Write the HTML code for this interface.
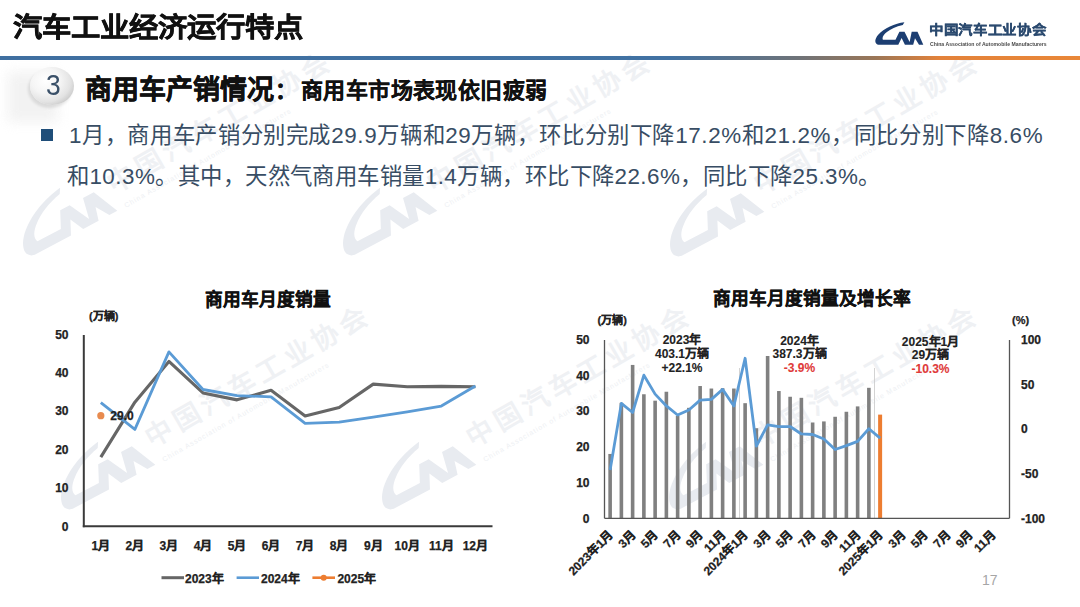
<!DOCTYPE html>
<html lang="zh-CN"><head><meta charset="utf-8">
<style>
html,body{margin:0;padding:0;background:#fff;}
#pg{position:relative;width:1080px;height:607px;overflow:hidden;background:#fff;font-family:"Liberation Sans", sans-serif;}
.t{position:absolute;white-space:nowrap;line-height:1;}
svg text{font-family:"Liberation Sans", sans-serif;}
.ax{font-size:12px;font-weight:bold;fill:#222;stroke:#222;stroke-width:0.25px;}
.ttl{font-size:17.7px;font-weight:bold;fill:#111;stroke:#111;stroke-width:0.35px;}
</style></head><body><div id="pg">
<svg style="position:absolute;left:0;top:0" width="1080" height="607" viewBox="0 0 1080 607">
<path transform="translate(5.300000000000001,216.1) rotate(-28) scale(2.1)" d="M29.4 0.3 C20 1.5, 9 6, 3 13 C0.5 16, -0.5 19.5, 1 21.3 C1.8 22.4, 2.8 22.8, 4.5 22.8 L23.3 22.8 L26.6 16 L29.9 22.8 L38.2 22.8 L40 16.3 L44 22.8 L48.3 22.8 L42.5 9.8 L36.7 9.8 L34.6 19.9 L29.5 9.8 L24.4 9.8 L20.5 17.8 L7.9 17.8 C6.8 15.5, 8.5 12.5, 11.9 9.9 C15.5 7, 21 4.3, 27.8 2.9 Z" fill="#E8EBF0"/>
<text transform="translate(114,194) rotate(-30)" style="font-size:27px;font-weight:bold;fill:#EFF1F4;letter-spacing:5px">中国汽车工业协会</text>
<text transform="translate(126,208) rotate(-30)" style="font-size:7px;fill:#EEF0F3;letter-spacing:1px">China Association of Automobile Manufacturers</text>
<path transform="translate(325.3,216.1) rotate(-28) scale(2.1)" d="M29.4 0.3 C20 1.5, 9 6, 3 13 C0.5 16, -0.5 19.5, 1 21.3 C1.8 22.4, 2.8 22.8, 4.5 22.8 L23.3 22.8 L26.6 16 L29.9 22.8 L38.2 22.8 L40 16.3 L44 22.8 L48.3 22.8 L42.5 9.8 L36.7 9.8 L34.6 19.9 L29.5 9.8 L24.4 9.8 L20.5 17.8 L7.9 17.8 C6.8 15.5, 8.5 12.5, 11.9 9.9 C15.5 7, 21 4.3, 27.8 2.9 Z" fill="#E8EBF0"/>
<text transform="translate(434,194) rotate(-30)" style="font-size:27px;font-weight:bold;fill:#EFF1F4;letter-spacing:5px">中国汽车工业协会</text>
<text transform="translate(446,208) rotate(-30)" style="font-size:7px;fill:#EEF0F3;letter-spacing:1px">China Association of Automobile Manufacturers</text>
<path transform="translate(652.3,217.1) rotate(-28) scale(2.1)" d="M29.4 0.3 C20 1.5, 9 6, 3 13 C0.5 16, -0.5 19.5, 1 21.3 C1.8 22.4, 2.8 22.8, 4.5 22.8 L23.3 22.8 L26.6 16 L29.9 22.8 L38.2 22.8 L40 16.3 L44 22.8 L48.3 22.8 L42.5 9.8 L36.7 9.8 L34.6 19.9 L29.5 9.8 L24.4 9.8 L20.5 17.8 L7.9 17.8 C6.8 15.5, 8.5 12.5, 11.9 9.9 C15.5 7, 21 4.3, 27.8 2.9 Z" fill="#E8EBF0"/>
<text transform="translate(761,195) rotate(-30)" style="font-size:27px;font-weight:bold;fill:#EFF1F4;letter-spacing:5px">中国汽车工业协会</text>
<text transform="translate(773,209) rotate(-30)" style="font-size:7px;fill:#EEF0F3;letter-spacing:1px">China Association of Automobile Manufacturers</text>
<path transform="translate(43.3,470.1) rotate(-28) scale(2.1)" d="M29.4 0.3 C20 1.5, 9 6, 3 13 C0.5 16, -0.5 19.5, 1 21.3 C1.8 22.4, 2.8 22.8, 4.5 22.8 L23.3 22.8 L26.6 16 L29.9 22.8 L38.2 22.8 L40 16.3 L44 22.8 L48.3 22.8 L42.5 9.8 L36.7 9.8 L34.6 19.9 L29.5 9.8 L24.4 9.8 L20.5 17.8 L7.9 17.8 C6.8 15.5, 8.5 12.5, 11.9 9.9 C15.5 7, 21 4.3, 27.8 2.9 Z" fill="#E8EBF0"/>
<text transform="translate(152,448) rotate(-30)" style="font-size:27px;font-weight:bold;fill:#EFF1F4;letter-spacing:5px">中国汽车工业协会</text>
<text transform="translate(164,462) rotate(-30)" style="font-size:7px;fill:#EEF0F3;letter-spacing:1px">China Association of Automobile Manufacturers</text>
<path transform="translate(364.3,470.1) rotate(-28) scale(2.1)" d="M29.4 0.3 C20 1.5, 9 6, 3 13 C0.5 16, -0.5 19.5, 1 21.3 C1.8 22.4, 2.8 22.8, 4.5 22.8 L23.3 22.8 L26.6 16 L29.9 22.8 L38.2 22.8 L40 16.3 L44 22.8 L48.3 22.8 L42.5 9.8 L36.7 9.8 L34.6 19.9 L29.5 9.8 L24.4 9.8 L20.5 17.8 L7.9 17.8 C6.8 15.5, 8.5 12.5, 11.9 9.9 C15.5 7, 21 4.3, 27.8 2.9 Z" fill="#E8EBF0"/>
<text transform="translate(473,448) rotate(-30)" style="font-size:27px;font-weight:bold;fill:#EFF1F4;letter-spacing:5px">中国汽车工业协会</text>
<text transform="translate(485,462) rotate(-30)" style="font-size:7px;fill:#EEF0F3;letter-spacing:1px">China Association of Automobile Manufacturers</text>
<path transform="translate(651.3,470.1) rotate(-28) scale(2.1)" d="M29.4 0.3 C20 1.5, 9 6, 3 13 C0.5 16, -0.5 19.5, 1 21.3 C1.8 22.4, 2.8 22.8, 4.5 22.8 L23.3 22.8 L26.6 16 L29.9 22.8 L38.2 22.8 L40 16.3 L44 22.8 L48.3 22.8 L42.5 9.8 L36.7 9.8 L34.6 19.9 L29.5 9.8 L24.4 9.8 L20.5 17.8 L7.9 17.8 C6.8 15.5, 8.5 12.5, 11.9 9.9 C15.5 7, 21 4.3, 27.8 2.9 Z" fill="#E8EBF0"/>
<text transform="translate(760,448) rotate(-30)" style="font-size:27px;font-weight:bold;fill:#EFF1F4;letter-spacing:5px">中国汽车工业协会</text>
<text transform="translate(772,462) rotate(-30)" style="font-size:7px;fill:#EEF0F3;letter-spacing:1px">China Association of Automobile Manufacturers</text>
</svg>
<div class="t" id="title" style="left:13px;top:14px;font-size:29.3px;font-weight:bold;color:#111;-webkit-text-stroke:0.6px #111;transform:scaleY(0.925);transform-origin:0 0;">汽车工业经济运行特点</div>
<div style="position:absolute;left:0;top:56px;width:1080px;height:4px;background:linear-gradient(90deg,#3F6FA0 0%,#4172A3 62%,#6F7378 74%,#9A7657 81%,#E3823A 87%,#E98738 100%);"></div>
<svg style="position:absolute;left:875px;top:22px" width="50" height="25" viewBox="0 0 50 25">
<path d="M29.4 0.3 C20 1.5, 9 6, 3 13 C0.5 16, -0.5 19.5, 1 21.3 C1.8 22.4, 2.8 22.8, 4.5 22.8 L23.3 22.8 L26.6 16 L29.9 22.8 L38.2 22.8 L40 16.3 L44 22.8 L48.3 22.8 L42.5 9.8 L36.7 9.8 L34.6 19.9 L29.5 9.8 L24.4 9.8 L20.5 17.8 L7.9 17.8 C6.8 15.5, 8.5 12.5, 11.9 9.9 C15.5 7, 21 4.3, 27.8 2.9 Z" fill="#1C3E72"/>
</svg>
<div class="t" style="left:929px;top:23px;font-size:14.5px;font-weight:bold;color:#2B4A6F;-webkit-text-stroke:0.3px #2B4A6F;letter-spacing:0.7px;transform:scaleY(0.9);transform-origin:0 0;">中国汽车工业协会</div>
<div class="t" style="left:930px;top:41.5px;font-size:5.5px;font-weight:bold;color:#4a4a4a;letter-spacing:0px;transform:scaleX(0.93);transform-origin:0 0">China Association of Automobile Manufacturers</div>
<div style="position:absolute;left:8px;top:72px;width:50px;height:50px;background:#f1f1f1;filter:blur(6px);opacity:0.9"></div>
<div style="position:absolute;left:30px;top:67px;width:44px;height:38px;border-radius:50%;background:radial-gradient(ellipse 72% 72% at 36% 36%,#ffffff 0%,#f5f5f5 45%,#e3e3e3 78%,#c9c9c9 100%);box-shadow:-2px 3px 3px rgba(0,0,0,0.10);"></div>
<div class="t" style="left:46px;top:70px;font-size:30px;color:#3A5068;transform:scaleX(0.88);transform-origin:0 0;">3</div>
<div class="t" style="left:85px;top:77px;font-size:27px;font-weight:bold;color:#111;-webkit-text-stroke:0.5px #111;">商用车产销情况</div>
<div class="t" style="left:275px;top:80px;font-size:22px;font-weight:bold;color:#111;-webkit-text-stroke:0.4px #111;">：</div>
<div class="t" style="left:301px;top:79.6px;font-size:22px;font-weight:bold;color:#111;-webkit-text-stroke:0.25px #111;letter-spacing:0.4px;">商用车市场表现依旧疲弱</div>
<div style="position:absolute;left:41px;top:129px;width:12px;height:12px;background:#1F4E79;"></div>
<div class="t" style="left:69px;top:125px;font-size:22.4px;letter-spacing:0.64px;color:#384D64;">1月，商用车产销分别完成29.9万辆和29万辆，环比分别下降17.2%和21.2%，同比分别下降8.6%</div>
<div class="t" style="left:67px;top:166px;font-size:22.4px;letter-spacing:0.46px;color:#384D64;">和10.3%。其中，天然气商用车销量1.4万辆，环比下降22.6%，同比下降25.3%。</div>
<svg style="position:absolute;left:0;top:0" width="1080" height="607" viewBox="0 0 1080 607">
<line x1="83.8" y1="335" x2="83.8" y2="527.2" stroke="#3a3a3a" stroke-width="2"/>
<line x1="82.8" y1="526.2" x2="492.5" y2="526.2" stroke="#3a3a3a" stroke-width="2"/>
<text x="68.5" y="530.5" text-anchor="end" class="ax">0</text>
<text x="68.5" y="492.1" text-anchor="end" class="ax">10</text>
<text x="68.5" y="453.7" text-anchor="end" class="ax">20</text>
<text x="68.5" y="415.3" text-anchor="end" class="ax">30</text>
<text x="68.5" y="376.9" text-anchor="end" class="ax">40</text>
<text x="68.5" y="338.5" text-anchor="end" class="ax">50</text>
<text x="100.82" y="549.5" text-anchor="middle" class="ax">1月</text>
<text x="134.88" y="549.5" text-anchor="middle" class="ax">2月</text>
<text x="168.93" y="549.5" text-anchor="middle" class="ax">3月</text>
<text x="202.97" y="549.5" text-anchor="middle" class="ax">4月</text>
<text x="237.02" y="549.5" text-anchor="middle" class="ax">5月</text>
<text x="271.07" y="549.5" text-anchor="middle" class="ax">6月</text>
<text x="305.12" y="549.5" text-anchor="middle" class="ax">7月</text>
<text x="339.17" y="549.5" text-anchor="middle" class="ax">8月</text>
<text x="373.22" y="549.5" text-anchor="middle" class="ax">9月</text>
<text x="407.27" y="549.5" text-anchor="middle" class="ax">10月</text>
<text x="441.32" y="549.5" text-anchor="middle" class="ax">11月</text>
<text x="475.38" y="549.5" text-anchor="middle" class="ax">12月</text>
<polyline points="100.82,457.08 134.88,402.17 168.93,361.46 202.97,392.95 237.02,399.86 271.07,390.26 305.12,415.99 339.17,407.54 373.22,384.12 407.27,386.81 441.32,386.42 475.38,386.81" fill="none" stroke="#666666" stroke-width="3.1" stroke-linejoin="round"/>
<polyline points="100.82,402.55 134.88,429.43 168.93,351.86 202.97,389.5 237.02,395.64 271.07,396.79 305.12,423.29 339.17,422.14 373.22,417.14 407.27,411.77 441.32,406.01 475.38,386.04" fill="none" stroke="#5B9BD5" stroke-width="2.8" stroke-linejoin="round"/>
<circle cx="100.82" cy="415.64" r="3.6" fill="#E88B4F"/>
<text x="110.3" y="419.84" class="ax">29.0</text>
<text x="89" y="320" class="ax" style="font-size:11px">(万辆)</text>
<line x1="161.5" y1="577.7" x2="184" y2="577.7" stroke="#666666" stroke-width="3"/>
<text x="185" y="583" class="ax">2023年</text>
<line x1="236.6" y1="577.7" x2="259" y2="577.7" stroke="#5B9BD5" stroke-width="2.6"/>
<text x="261" y="583" class="ax">2024年</text>
<line x1="312.4" y1="577.7" x2="335" y2="577.7" stroke="#ED7D31" stroke-width="2.6"/>
<circle cx="323.7" cy="577.7" r="3" fill="#ED7D31"/>
<text x="337.4" y="583" class="ax">2025年</text>
<text x="204.5" y="305.5" class="ttl">商用车月度销量</text>
<line x1="739.5" y1="368" x2="739.5" y2="518.3" stroke="#c8c8c8" stroke-width="0.8"/>
<line x1="874.5" y1="368" x2="874.5" y2="518.3" stroke="#c8c8c8" stroke-width="0.8"/>
<rect x="608.33" y="453.95" width="3.6" height="64.35" fill="#808080"/>
<rect x="619.58" y="402.83" width="3.6" height="115.47" fill="#808080"/>
<rect x="630.83" y="364.93" width="3.6" height="153.37" fill="#808080"/>
<rect x="642.08" y="394.25" width="3.6" height="124.05" fill="#808080"/>
<rect x="653.33" y="400.68" width="3.6" height="117.62" fill="#808080"/>
<rect x="664.58" y="391.74" width="3.6" height="126.56" fill="#808080"/>
<rect x="675.83" y="415.7" width="3.6" height="102.6" fill="#808080"/>
<rect x="687.08" y="407.83" width="3.6" height="110.47" fill="#808080"/>
<rect x="698.33" y="386.02" width="3.6" height="132.27" fill="#808080"/>
<rect x="709.58" y="388.53" width="3.6" height="129.77" fill="#808080"/>
<rect x="720.83" y="388.17" width="3.6" height="130.13" fill="#808080"/>
<rect x="732.08" y="388.53" width="3.6" height="129.77" fill="#808080"/>
<rect x="743.33" y="403.18" width="3.6" height="115.12" fill="#808080"/>
<rect x="754.58" y="428.21" width="3.6" height="90.09" fill="#808080"/>
<rect x="765.83" y="355.99" width="3.6" height="162.31" fill="#808080"/>
<rect x="777.08" y="391.03" width="3.6" height="127.27" fill="#808080"/>
<rect x="788.33" y="396.75" width="3.6" height="121.55" fill="#808080"/>
<rect x="799.58" y="397.82" width="3.6" height="120.48" fill="#808080"/>
<rect x="810.83" y="422.49" width="3.6" height="95.81" fill="#808080"/>
<rect x="822.08" y="421.42" width="3.6" height="96.88" fill="#808080"/>
<rect x="833.33" y="416.77" width="3.6" height="101.53" fill="#808080"/>
<rect x="844.58" y="411.76" width="3.6" height="106.54" fill="#808080"/>
<rect x="855.83" y="406.4" width="3.6" height="111.9" fill="#808080"/>
<rect x="867.08" y="387.81" width="3.6" height="130.49" fill="#808080"/>
<rect x="878.12" y="414.62" width="4" height="103.68" fill="#ED7D31"/>
<polyline points="610.12,470.1 621.38,403.37 632.62,412.49 643.88,375.19 655.12,394.15 666.38,405.96 677.62,415 688.88,409.99 700.12,400.15 711.38,399.34 722.62,389.41 733.88,405.96 745.12,358.28 756.38,446.03 767.62,424.84 778.88,426.53 790.12,426.53 801.38,433.96 812.62,434.5 823.88,439.06 835.12,449.52 846.38,445.59 857.62,441.38 868.88,428.77 880.12,438.16" fill="none" stroke="#5B9BD5" stroke-width="2.8" stroke-linejoin="round"/>
<line x1="604.5" y1="340" x2="604.5" y2="518.3" stroke="#555" stroke-width="1.3"/>
<line x1="1009.5" y1="340" x2="1009.5" y2="518.3" stroke="#555" stroke-width="1.3"/>
<line x1="604.5" y1="518.3" x2="1009.5" y2="518.3" stroke="#555" stroke-width="1.3"/>
<text x="589.5" y="522.6" text-anchor="end" class="ax">0</text>
<text x="589.5" y="486.85" text-anchor="end" class="ax">10</text>
<text x="589.5" y="451.1" text-anchor="end" class="ax">20</text>
<text x="589.5" y="415.35" text-anchor="end" class="ax">30</text>
<text x="589.5" y="379.6" text-anchor="end" class="ax">40</text>
<text x="589.5" y="343.85" text-anchor="end" class="ax">50</text>
<text x="1021" y="343.8" class="ax">100</text>
<text x="1021" y="388.52" class="ax">50</text>
<text x="1021" y="433.25" class="ax">0</text>
<text x="1021" y="477.98" class="ax">-50</text>
<text x="1021" y="522.7" class="ax">-100</text>
<text x="597.5" y="324" class="ax" style="font-size:11px">(万辆)</text>
<text x="1012" y="324" class="ax" style="font-size:11px">(%)</text>
<text transform="translate(610.92,532.5) rotate(-45)" text-anchor="end" y="4.3" class="ax">2023年1月</text>
<text transform="translate(633.42,532.5) rotate(-45)" text-anchor="end" y="4.3" class="ax">3月</text>
<text transform="translate(655.92,532.5) rotate(-45)" text-anchor="end" y="4.3" class="ax">5月</text>
<text transform="translate(678.42,532.5) rotate(-45)" text-anchor="end" y="4.3" class="ax">7月</text>
<text transform="translate(700.92,532.5) rotate(-45)" text-anchor="end" y="4.3" class="ax">9月</text>
<text transform="translate(723.42,532.5) rotate(-45)" text-anchor="end" y="4.3" class="ax">11月</text>
<text transform="translate(745.92,532.5) rotate(-45)" text-anchor="end" y="4.3" class="ax">2024年1月</text>
<text transform="translate(768.42,532.5) rotate(-45)" text-anchor="end" y="4.3" class="ax">3月</text>
<text transform="translate(790.92,532.5) rotate(-45)" text-anchor="end" y="4.3" class="ax">5月</text>
<text transform="translate(813.42,532.5) rotate(-45)" text-anchor="end" y="4.3" class="ax">7月</text>
<text transform="translate(835.92,532.5) rotate(-45)" text-anchor="end" y="4.3" class="ax">9月</text>
<text transform="translate(858.42,532.5) rotate(-45)" text-anchor="end" y="4.3" class="ax">11月</text>
<text transform="translate(880.92,532.5) rotate(-45)" text-anchor="end" y="4.3" class="ax">2025年1月</text>
<text transform="translate(903.42,532.5) rotate(-45)" text-anchor="end" y="4.3" class="ax">3月</text>
<text transform="translate(925.92,532.5) rotate(-45)" text-anchor="end" y="4.3" class="ax">5月</text>
<text transform="translate(948.42,532.5) rotate(-45)" text-anchor="end" y="4.3" class="ax">7月</text>
<text transform="translate(970.92,532.5) rotate(-45)" text-anchor="end" y="4.3" class="ax">9月</text>
<text transform="translate(993.42,532.5) rotate(-45)" text-anchor="end" y="4.3" class="ax">11月</text>
<text x="682" y="344.3" text-anchor="middle" class="ax" style="fill:#222;stroke:#222;stroke-width:0.1px">2023年</text>
<text x="682" y="357.9" text-anchor="middle" class="ax" style="fill:#222;stroke:#222;stroke-width:0.1px">403.1万辆</text>
<text x="682" y="371.5" text-anchor="middle" class="ax" style="fill:#222;stroke:#222;stroke-width:0.1px">+22.1%</text>
<text x="799.5" y="344.5" text-anchor="middle" class="ax" style="fill:#222;stroke:#222;stroke-width:0.1px">2024年</text>
<text x="799.5" y="358.1" text-anchor="middle" class="ax" style="fill:#222;stroke:#222;stroke-width:0.1px">387.3万辆</text>
<text x="799.5" y="371.7" text-anchor="middle" class="ax" style="fill:#E03A3A;stroke:#E03A3A;stroke-width:0.1px">-3.9%</text>
<text x="930.5" y="345.5" text-anchor="middle" class="ax" style="fill:#222;stroke:#222;stroke-width:0.1px">2025年1月</text>
<text x="930.5" y="359.1" text-anchor="middle" class="ax" style="fill:#222;stroke:#222;stroke-width:0.1px">29万辆</text>
<text x="930.5" y="372.7" text-anchor="middle" class="ax" style="fill:#E03A3A;stroke:#E03A3A;stroke-width:0.1px">-10.3%</text>
<text x="712.5" y="305" class="ttl">商用车月度销量及增长率</text>
<text x="982" y="585" style="font-size:14px;fill:#A6A6A6">17</text>
</svg>
</div></body></html>
